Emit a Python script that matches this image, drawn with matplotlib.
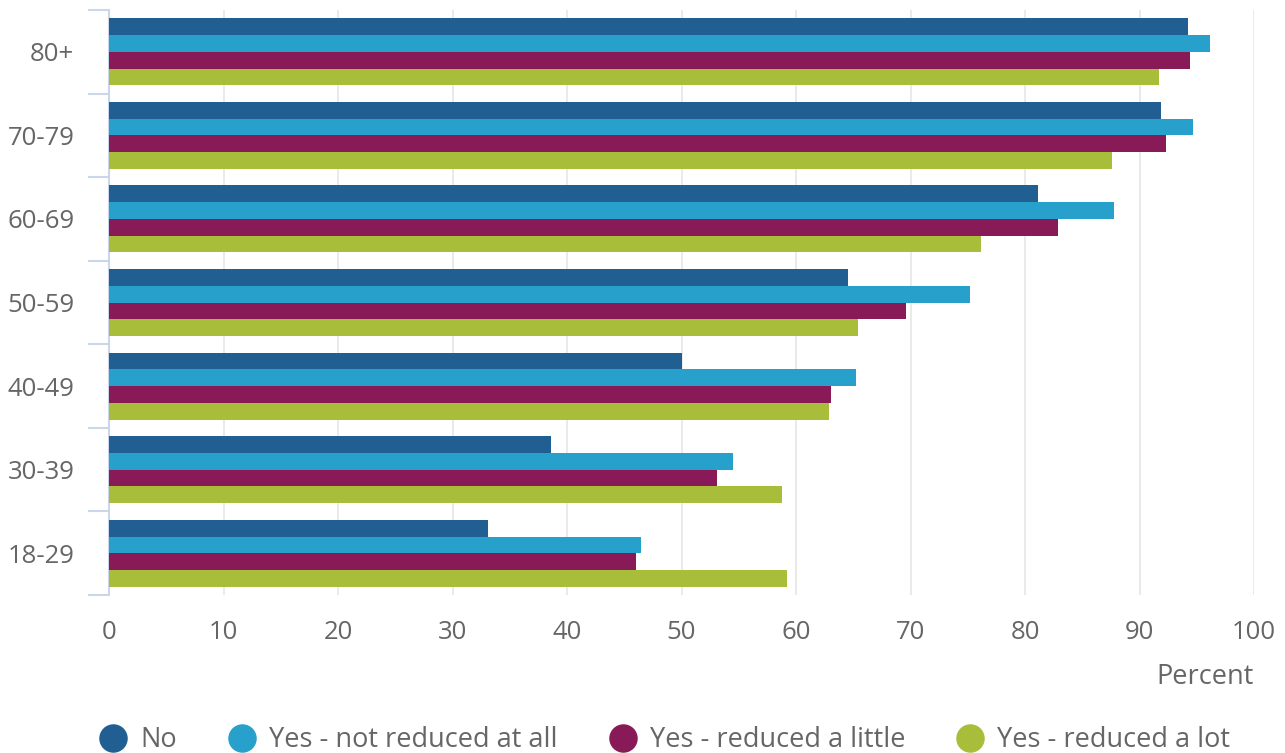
import matplotlib.pyplot as plt
import numpy as np
from matplotlib.lines import Line2D

plt.rcParams['font.family'] = ['Open Sans', 'DejaVu Sans']

ages = ['18-29', '30-39', '40-49', '50-59', '60-69', '70-79', '80+']
series_names = ['No', 'Yes - not reduced at all', 'Yes - reduced a little', 'Yes - reduced a lot']
no_vals = [33.1, 38.6, 50.0, 64.5, 81.1, 91.9, 94.2]
not_reduced = [46.5, 54.5, 65.2, 75.2, 87.8, 94.7, 96.2]
reduced_little = [46.0, 53.1, 63.1, 69.6, 82.9, 92.3, 94.4]
reduced_lot = [59.2, 58.8, 62.9, 65.4, 76.2, 87.6, 91.7]
colors = ['#215f92', '#27a1cc', '#881a58', '#a8bd3a']
text_col = '#666666'

fig = plt.figure(figsize=(12.85, 7.53), dpi=100)
ax = fig.add_axes([109 / 1285, 1 - 595 / 753, (1254 - 109) / 1285, 585 / 753])

y = np.arange(len(ages))
h = 0.2
all_series = [no_vals, not_reduced, reduced_little, reduced_lot]
for i, (vals, c) in enumerate(zip(all_series, colors)):
    # first series on top within each group
    ax.barh(y + 0.3 - i * h, vals, height=h, color=c, zorder=3)

ax.set_xlim(0, 100)
ax.set_ylim(-0.5, len(ages) - 0.5)
ax.set_xticks(np.arange(0, 101, 10))
ax.set_yticks(y)
ax.set_yticklabels(ages)
ax.tick_params(axis='y', length=0, pad=25, labelsize=18.5, labelcolor=text_col)
ax.tick_params(axis='x', length=0, pad=18, labelsize=18.5, labelcolor=text_col)
ax.set_yticks(np.arange(-0.5, len(ages), 1), minor=True)
ax.tick_params(axis='y', which='minor', length=15, width=1.5, color='#ccd6eb')

ax.grid(axis='x', color='#e6e6e6', linewidth=1.2, zorder=0)
for s in ['top', 'right', 'bottom']:
    ax.spines[s].set_visible(False)
ax.spines['left'].set_color('#ccd6eb')
ax.spines['left'].set_linewidth(1.5)

fig.text(1254 / 1285, 1 - 677 / 753, 'Percent', ha='right', va='center',
         fontsize=19.5, color=text_col)

handles = [Line2D([], [], marker='o', linestyle='', markersize=19.5, color=c) for c in colors]
fig.legend(handles, series_names, loc='center', bbox_to_anchor=(665 / 1285, 1 - 740 / 753),
           ncol=4, frameon=False, fontsize=19.5, labelcolor=text_col,
           handletextpad=0.5, columnspacing=1.9, handlelength=1.0)

fig.savefig('out.png', dpi=100)
